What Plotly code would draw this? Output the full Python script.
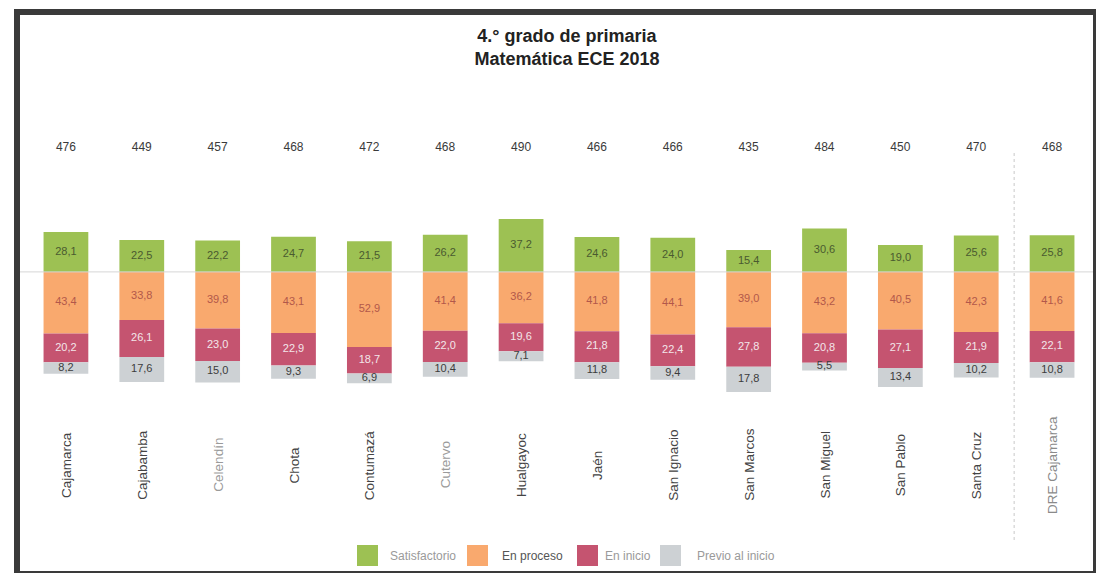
import plotly.graph_objects as go

provincias = ['Cajamarca', 'Cajabamba', 'Celendín', 'Chota', 'Contumazá', 'Cutervo', 'Hualgayoc',
              'Jaén', 'San Ignacio', 'San Marcos', 'San Miguel', 'San Pablo', 'Santa Cruz', 'DRE Cajamarca']
medida = [476, 449, 457, 468, 472, 468, 490, 466, 466, 435, 484, 450, 470, 468]
satisfactorio = [28.1, 22.5, 22.2, 24.7, 21.5, 26.2, 37.2, 24.6, 24.0, 15.4, 30.6, 19.0, 25.6, 25.8]
en_proceso = [43.4, 33.8, 39.8, 43.1, 52.9, 41.4, 36.2, 41.8, 44.1, 39.0, 43.2, 40.5, 42.3, 41.6]
en_inicio = [20.2, 26.1, 23.0, 22.9, 18.7, 22.0, 19.6, 21.8, 22.4, 27.8, 20.8, 27.1, 21.9, 22.1]
previo = [8.2, 17.6, 15.0, 9.3, 6.9, 10.4, 7.1, 11.8, 9.4, 17.8, 5.5, 13.4, 10.2, 10.8]

# the page body has an 8px margin, so the figure is a bit smaller and shifted
OFF = 8
W, H = 1104 - 2 * OFF, 581 - 2 * OFF
L, R, T, B = 20, 6, 129, 152
PW, PH = W - L - R, H - T - B


def px_x(px):
    # window pixel -> paper x
    return (px - OFF - L) / PW


def px_y(py):
    # window pixel -> paper y
    return (H - B - (py - OFF)) / PH


def coma(v):
    return f'{v:.1f}'.replace('.', ',')


x = list(range(len(provincias)))

fig = go.Figure()

series = [
    ('Satisfactorio', satisfactorio, 1, '#9dc153', '#4a5a30'),
    ('En proceso', en_proceso, -1, '#f9a96e', '#b2584a'),
    ('En inicio', en_inicio, -1, '#c55470', '#f3e6ea'),
    ('Previo al inicio', previo, -1, '#cdd1d4', '#3c3c3c'),
]

for name, vals, sign, color, tcolor in series:
    fig.add_trace(go.Bar(x=x, y=[sign * v for v in vals], name=name, width=0.59, showlegend=False,
                         marker={'color': color, 'line': {'width': 0}}, hoverinfo='skip'))

# segment labels at the middle of each piece
below = [0.0] * len(x)
fig.add_trace(go.Scatter(x=x, y=[v / 2 for v in satisfactorio], mode='text',
                         text=[coma(v) for v in satisfactorio], showlegend=False,
                         textfont={'size': 11, 'color': '#4a5a30', 'family': 'Liberation Sans'}))
for name, vals, sign, color, tcolor in series[1:]:
    mids = [-(b + v / 2) for b, v in zip(below, vals)]
    below = [b + v for b, v in zip(below, vals)]
    fig.add_trace(go.Scatter(x=x, y=mids, mode='text', text=[coma(v) for v in vals], showlegend=False,
                             textfont={'size': 11, 'color': tcolor, 'family': 'Liberation Sans'}))

# medida promedio above bars
fig.add_trace(go.Scatter(x=x, y=[87] * len(x), mode='text', text=[str(m) for m in medida], showlegend=False,
                         textfont={'size': 12, 'color': '#3a3a3a', 'family': 'Liberation Sans'}))

# category labels, rotated
lab_colors = ['#444'] * len(x)
lab_colors[2] = '#9a9a9a'
lab_colors[5] = '#9a9a9a'
lab_colors[13] = '#8a8a8a'
for i, p in enumerate(provincias):
    fig.add_annotation(x=i, y=px_y(465), xref='x', yref='paper', yanchor='middle', text=p, textangle=-90,
                       showarrow=False, font={'size': 13.5, 'color': lab_colors[i], 'family': 'Liberation Sans'})

# legend drawn by hand (big squares)
leg_sq = [357, 467, 577, 660]
leg_tx = [388, 500, 603, 695]
leg_col = ['#9a9a9a', '#555555', '#9a9a9a', '#9a9a9a']
for (name, vals, sign, color, tcolor), sx, tx, lc in zip(series, leg_sq, leg_tx, leg_col):
    fig.add_shape(type='rect', xref='paper', yref='paper', x0=px_x(sx), x1=px_x(sx + 21),
                  y0=px_y(566), y1=px_y(545), fillcolor=color, line={'width': 0})
    fig.add_annotation(x=px_x(tx), y=px_y(556), xref='paper', yref='paper', xanchor='left', yanchor='middle',
                       text=name, showarrow=False, font={'size': 12, 'color': lc, 'family': 'Liberation Sans'})

# baseline and separator
fig.add_shape(type='line', xref='paper', yref='y', x0=px_x(20), x1=px_x(1095), y0=0, y1=0,
              line={'color': '#d6d6d6', 'width': 1})
fig.add_shape(type='line', xref='x', yref='paper', x0=12.5, x1=12.5, y0=px_y(540), y1=px_y(150),
              line={'color': '#c8c8c8', 'width': 1, 'dash': 'dot'})

# scanned frame
fig.add_shape(type='rect', xref='paper', yref='paper', x0=px_x(17), x1=px_x(1096), y0=px_y(574), y1=px_y(12),
              line={'color': '#3a3a3a', 'width': 6}, layer='above')

fig.update_layout(
    width=W, height=H,
    margin={'l': L, 'r': R, 't': T, 'b': B},
    barmode='relative',
    plot_bgcolor='white', paper_bgcolor='white',
    title={'text': '<b>4.° grado de primaria<br>Matemática ECE 2018</b>', 'x': px_x(567), 'xanchor': 'center',
           'xref': 'paper', 'y': 1 - 34 / H, 'yanchor': 'middle',
           'font': {'size': 18, 'color': '#222', 'family': 'Liberation Sans'}},
    showlegend=False,
    xaxis={'range': [-0.5, 13.5], 'showticklabels': False, 'showgrid': False, 'zeroline': False,
           'showline': False, 'ticks': ''},
    yaxis={'range': [-105, 95], 'showticklabels': False, 'showgrid': False, 'zeroline': False,
           'showline': False, 'ticks': ''},
)

fig.write_html('out.html')
